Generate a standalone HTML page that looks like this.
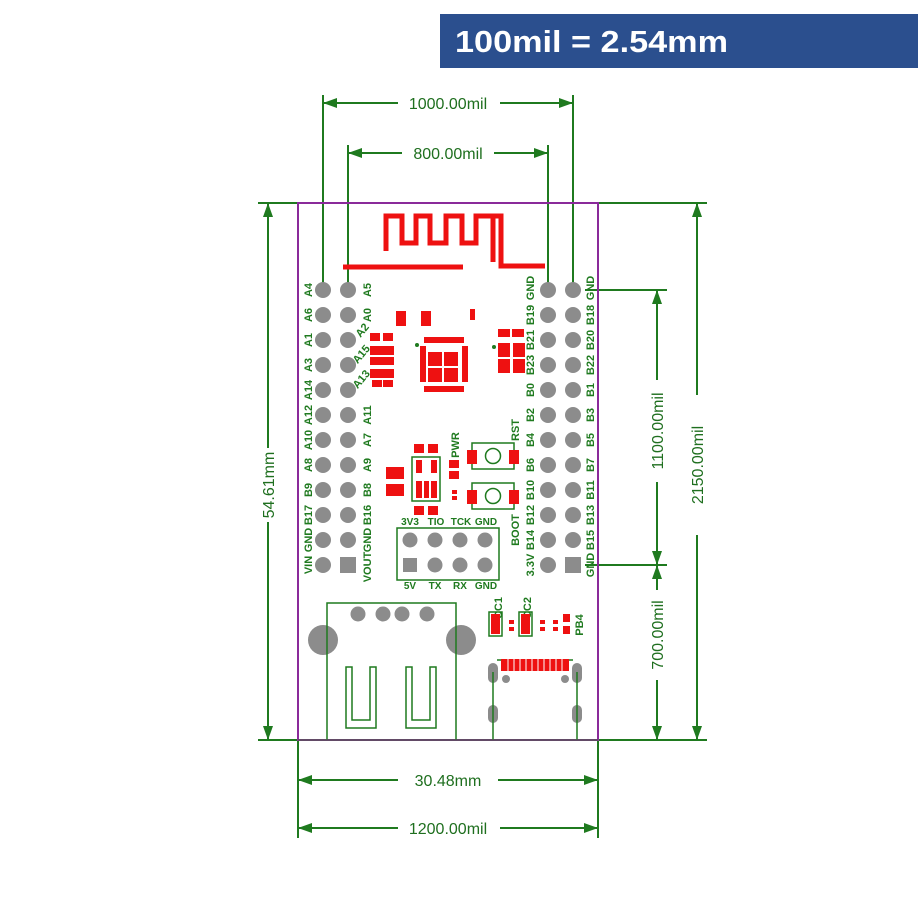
<!DOCTYPE html>
<html><head><meta charset="utf-8"><style>
html,body{margin:0;padding:0;background:#fff;}
svg{display:block;}
.l{font-family:"Liberation Sans",sans-serif;font-weight:bold;font-size:11px;fill:#1f7a1f;}
.h{font-family:"Liberation Sans",sans-serif;font-weight:bold;font-size:10px;fill:#1f7a1f;}
.d{font-family:"Liberation Sans",sans-serif;font-size:16px;fill:#1f6f1f;}
</style></head><body>
<svg width="918" height="922" viewBox="0 0 918 922" xmlns="http://www.w3.org/2000/svg">
<rect x="440" y="14" width="478" height="54" fill="#2b4f8e"/>
<text x="455" y="52" textLength="273" lengthAdjust="spacingAndGlyphs" font-family="Liberation Sans,sans-serif" font-weight="bold" font-size="31" fill="#fff">100mil = 2.54mm</text>

<g stroke="#1f7a1f" stroke-width="2" fill="none">
<line x1="323" y1="95" x2="323" y2="283"/><line x1="573" y1="95" x2="573" y2="283"/>
<line x1="323" y1="103" x2="398" y2="103"/><line x1="500" y1="103" x2="573" y2="103"/>
<line x1="348" y1="145" x2="348" y2="283"/><line x1="548" y1="145" x2="548" y2="283"/>
<line x1="348" y1="153" x2="402" y2="153"/><line x1="494" y1="153" x2="548" y2="153"/>
<line x1="258" y1="203" x2="298" y2="203"/><line x1="258" y1="740" x2="298" y2="740"/>
<line x1="268" y1="203" x2="268" y2="448"/><line x1="268" y1="522" x2="268" y2="740"/>
<line x1="598" y1="203" x2="707" y2="203"/><line x1="598" y1="740" x2="707" y2="740"/>
<line x1="697" y1="203" x2="697" y2="395"/><line x1="697" y1="535" x2="697" y2="740"/>
<line x1="585" y1="290" x2="667" y2="290"/><line x1="585" y1="565" x2="667" y2="565"/>
<line x1="657" y1="290" x2="657" y2="380"/><line x1="657" y1="482" x2="657" y2="565"/>
<line x1="657" y1="565" x2="657" y2="590"/><line x1="657" y1="680" x2="657" y2="740"/>
<line x1="298" y1="740" x2="298" y2="838"/><line x1="598" y1="740" x2="598" y2="838"/>
<line x1="298" y1="780" x2="398" y2="780"/><line x1="498" y1="780" x2="598" y2="780"/>
<line x1="298" y1="828" x2="398" y2="828"/><line x1="500" y1="828" x2="598" y2="828"/>
</g>
<g fill="#1f7a1f">
<polygon points="323,103 337,98 337,108"/><polygon points="573,103 559,98 559,108"/>
<polygon points="348,153 362,148 362,158"/><polygon points="548,153 534,148 534,158"/>
<polygon points="268,203 263,217 273,217"/><polygon points="268,740 263,726 273,726"/>
<polygon points="697,203 692,217 702,217"/><polygon points="697,740 692,726 702,726"/>
<polygon points="657,290 652,304 662,304"/><polygon points="657,565 652,551 662,551"/>
<polygon points="657,565 652,579 662,579"/><polygon points="657,740 652,726 662,726"/>
<polygon points="298,780 312,775 312,785"/><polygon points="598,780 584,775 584,785"/>
<polygon points="298,828 312,823 312,833"/><polygon points="598,828 584,823 584,833"/>
</g>
<text class="d" x="448" y="109" text-anchor="middle">1000.00mil</text>
<text class="d" x="448" y="159" text-anchor="middle">800.00mil</text>
<text class="d" x="448" y="786" text-anchor="middle">30.48mm</text>
<text class="d" x="448" y="834" text-anchor="middle">1200.00mil</text>
<text class="d" transform="rotate(-90 274 485)" x="274" y="485" text-anchor="middle">54.61mm</text>
<text class="d" transform="rotate(-90 703 465)" x="703" y="465" text-anchor="middle">2150.00mil</text>
<text class="d" transform="rotate(-90 663 431)" x="663" y="431" text-anchor="middle">1100.00mil</text>
<text class="d" transform="rotate(-90 663 635)" x="663" y="635" text-anchor="middle">700.00mil</text>

<rect x="298" y="203" width="300" height="537" fill="none" stroke="#8a2a9a" stroke-width="2"/>

<g fill="none" stroke="#ee1111" stroke-width="5">
<path d="M386,251 V216 H402 V243 H416 V216 H430 V243 H446 V216 H462 V243 H476 V216 H493 V262"/>
<path d="M476,216 H501 V266 H545"/>
<path d="M343,267 H463"/>
</g>

<g fill="#8c8c8c">
<circle cx="323" cy="290" r="8"/><circle cx="323" cy="315" r="8"/><circle cx="323" cy="340" r="8"/><circle cx="323" cy="365" r="8"/><circle cx="323" cy="390" r="8"/><circle cx="323" cy="415" r="8"/><circle cx="323" cy="440" r="8"/><circle cx="323" cy="465" r="8"/><circle cx="323" cy="490" r="8"/><circle cx="323" cy="515" r="8"/><circle cx="323" cy="540" r="8"/><circle cx="323" cy="565" r="8"/>
<circle cx="348" cy="290" r="8"/><circle cx="348" cy="315" r="8"/><circle cx="348" cy="340" r="8"/><circle cx="348" cy="365" r="8"/><circle cx="348" cy="390" r="8"/><circle cx="348" cy="415" r="8"/><circle cx="348" cy="440" r="8"/><circle cx="348" cy="465" r="8"/><circle cx="348" cy="490" r="8"/><circle cx="348" cy="515" r="8"/><circle cx="348" cy="540" r="8"/><rect x="340" y="557" width="16" height="16"/>
<circle cx="548" cy="290" r="8"/><circle cx="548" cy="315" r="8"/><circle cx="548" cy="340" r="8"/><circle cx="548" cy="365" r="8"/><circle cx="548" cy="390" r="8"/><circle cx="548" cy="415" r="8"/><circle cx="548" cy="440" r="8"/><circle cx="548" cy="465" r="8"/><circle cx="548" cy="490" r="8"/><circle cx="548" cy="515" r="8"/><circle cx="548" cy="540" r="8"/><circle cx="548" cy="565" r="8"/>
<circle cx="573" cy="290" r="8"/><circle cx="573" cy="315" r="8"/><circle cx="573" cy="340" r="8"/><circle cx="573" cy="365" r="8"/><circle cx="573" cy="390" r="8"/><circle cx="573" cy="415" r="8"/><circle cx="573" cy="440" r="8"/><circle cx="573" cy="465" r="8"/><circle cx="573" cy="490" r="8"/><circle cx="573" cy="515" r="8"/><circle cx="573" cy="540" r="8"/><rect x="565" y="557" width="16" height="16"/>
<circle cx="410" cy="540" r="7.5"/><circle cx="435" cy="540" r="7.5"/><circle cx="460" cy="540" r="7.5"/><circle cx="485" cy="540" r="7.5"/>
<rect x="403" y="558" width="14" height="14"/><circle cx="435" cy="565" r="7.5"/><circle cx="460" cy="565" r="7.5"/><circle cx="485" cy="565" r="7.5"/>
<circle cx="358" cy="614" r="7.5"/><circle cx="383" cy="614" r="7.5"/><circle cx="402" cy="614" r="7.5"/><circle cx="427" cy="614" r="7.5"/>
<circle cx="323" cy="640" r="15"/><circle cx="461" cy="640" r="15"/>
<rect x="488" y="663" width="10" height="20" rx="5"/><rect x="572" y="663" width="10" height="20" rx="5"/>
<rect x="488" y="705" width="10" height="18" rx="5"/><rect x="572" y="705" width="10" height="18" rx="5"/>
<circle cx="506" cy="679" r="4"/><circle cx="565" cy="679" r="4"/>
</g>

<g class="l" text-anchor="middle">
<text transform="rotate(-90 308 290)" x="308" y="294">A4</text>
<text transform="rotate(-90 308 315)" x="308" y="319">A6</text>
<text transform="rotate(-90 308 340)" x="308" y="344">A1</text>
<text transform="rotate(-90 308 365)" x="308" y="369">A3</text>
<text transform="rotate(-90 308 390)" x="308" y="394">A14</text>
<text transform="rotate(-90 308 415)" x="308" y="419">A12</text>
<text transform="rotate(-90 308 440)" x="308" y="444">A10</text>
<text transform="rotate(-90 308 465)" x="308" y="469">A8</text>
<text transform="rotate(-90 308 490)" x="308" y="494">B9</text>
<text transform="rotate(-90 308 515)" x="308" y="519">B17</text>
<text transform="rotate(-90 308 540)" x="308" y="544">GND</text>
<text transform="rotate(-90 308 565)" x="308" y="569">VIN</text>
<text transform="rotate(-90 367 290)" x="367" y="294">A5</text>
<text transform="rotate(-90 367 315)" x="367" y="319">A0</text>
<text transform="rotate(-50 362 330)" x="362" y="334">A2</text>
<text transform="rotate(-50 361 354)" x="361" y="358">A15</text>
<text transform="rotate(-50 361 379)" x="361" y="383">A13</text>
<text transform="rotate(-90 367 415)" x="367" y="419">A11</text>
<text transform="rotate(-90 367 440)" x="367" y="444">A7</text>
<text transform="rotate(-90 367 465)" x="367" y="469">A9</text>
<text transform="rotate(-90 367 490)" x="367" y="494">B8</text>
<text transform="rotate(-90 367 515)" x="367" y="519">B16</text>
<text transform="rotate(-90 367 540)" x="367" y="544">GND</text>
<text transform="rotate(-90 367 567)" x="367" y="571">VOUT</text>
<text transform="rotate(-90 530 288)" x="530" y="292">GND</text>
<text transform="rotate(-90 530 315)" x="530" y="319">B19</text>
<text transform="rotate(-90 530 340)" x="530" y="344">B21</text>
<text transform="rotate(-90 530 365)" x="530" y="369">B23</text>
<text transform="rotate(-90 530 390)" x="530" y="394">B0</text>
<text transform="rotate(-90 530 415)" x="530" y="419">B2</text>
<text transform="rotate(-90 530 440)" x="530" y="444">B4</text>
<text transform="rotate(-90 530 465)" x="530" y="469">B6</text>
<text transform="rotate(-90 530 490)" x="530" y="494">B10</text>
<text transform="rotate(-90 530 515)" x="530" y="519">B12</text>
<text transform="rotate(-90 530 540)" x="530" y="544">B14</text>
<text transform="rotate(-90 530 565)" x="530" y="569">3.3V</text>
<text transform="rotate(-90 590 288)" x="590" y="292">GND</text>
<text transform="rotate(-90 590 315)" x="590" y="319">B18</text>
<text transform="rotate(-90 590 340)" x="590" y="344">B20</text>
<text transform="rotate(-90 590 365)" x="590" y="369">B22</text>
<text transform="rotate(-90 590 390)" x="590" y="394">B1</text>
<text transform="rotate(-90 590 415)" x="590" y="419">B3</text>
<text transform="rotate(-90 590 440)" x="590" y="444">B5</text>
<text transform="rotate(-90 590 465)" x="590" y="469">B7</text>
<text transform="rotate(-90 590 490)" x="590" y="494">B11</text>
<text transform="rotate(-90 590 515)" x="590" y="519">B13</text>
<text transform="rotate(-90 590 540)" x="590" y="544">B15</text>
<text transform="rotate(-90 590 565)" x="590" y="569">GND</text>
<text transform="rotate(-90 515 430)" x="515" y="434">RST</text>
<text transform="rotate(-90 455 445)" x="455" y="449">PWR</text>
<text transform="rotate(-90 515 530)" x="515" y="534">BOOT</text>
<text transform="rotate(-90 498 608)" x="498" y="612">CC1</text>
<text transform="rotate(-90 527 608)" x="527" y="612">CC2</text>
<text transform="rotate(-90 579 625)" x="579" y="629">PB4</text>
</g>
<g class="h" text-anchor="middle">
<text x="410" y="525">3V3</text><text x="436" y="525">TIO</text><text x="461" y="525">TCK</text><text x="486" y="525">GND</text>
<text x="410" y="589">5V</text><text x="435" y="589">TX</text><text x="460" y="589">RX</text><text x="486" y="589">GND</text>
</g>

<g fill="none" stroke="#1f7a1f" stroke-width="1.5">
<rect x="397" y="528" width="102" height="52"/>
<rect x="412" y="457" width="28" height="44"/>
<rect x="472" y="443" width="42" height="26"/><circle cx="493" cy="456" r="7.5"/>
<rect x="472" y="483" width="42" height="26"/><circle cx="493" cy="496" r="7.5"/>
<path d="M327,740 V603 H456 V740"/>
<path d="M346,667 V728 H376 V667 H370 V720 H352 V667 Z"/>
<path d="M406,667 V728 H436 V667 H430 V720 H412 V667 Z"/>
<path d="M493,740 V672 M577,740 V672 M497,660 H573"/>
<rect x="489" y="612" width="13" height="24"/><rect x="519" y="612" width="13" height="24"/>
</g>
<line x1="298" y1="740" x2="598" y2="740" stroke="#555" stroke-width="1.5"/>

<g fill="#ee1111">
<rect x="396" y="311" width="10" height="15"/><rect x="421" y="311" width="10" height="15"/>
<rect x="470" y="309" width="5" height="11"/>
<rect x="428" y="352" width="14" height="14"/><rect x="444" y="352" width="14" height="14"/><rect x="428" y="368" width="14" height="14"/><rect x="444" y="368" width="14" height="14"/>
<rect x="424" y="337" width="40" height="6"/><rect x="424" y="386" width="40" height="6"/>
<rect x="420" y="346" width="6" height="36"/><rect x="462" y="346" width="6" height="36"/>
<rect x="498" y="329" width="12" height="8"/><rect x="512" y="329" width="12" height="8"/>
<rect x="498" y="343" width="12" height="14"/><rect x="513" y="343" width="12" height="14"/>
<rect x="498" y="359" width="12" height="14"/><rect x="513" y="359" width="12" height="14"/>
<rect x="370" y="333" width="10" height="8"/><rect x="383" y="333" width="10" height="8"/>
<rect x="370" y="346" width="24" height="9"/><rect x="370" y="357" width="24" height="8"/><rect x="370" y="369" width="24" height="9"/>
<rect x="372" y="380" width="10" height="7"/><rect x="383" y="380" width="10" height="7"/>
<rect x="414" y="444" width="10" height="9"/><rect x="428" y="444" width="10" height="9"/>
<rect x="416" y="460" width="6" height="13"/><rect x="431" y="460" width="6" height="13"/>
<rect x="416" y="481" width="6" height="17"/><rect x="424" y="481" width="5" height="17"/><rect x="431" y="481" width="6" height="17"/>
<rect x="414" y="506" width="10" height="9"/><rect x="428" y="506" width="10" height="9"/>
<rect x="386" y="467" width="18" height="12"/><rect x="386" y="484" width="18" height="12"/>
<rect x="449" y="460" width="10" height="8"/><rect x="449" y="471" width="10" height="8"/>
<rect x="452" y="490" width="5" height="4"/><rect x="452" y="496" width="5" height="4"/>
<rect x="467" y="450" width="10" height="14"/><rect x="509" y="450" width="10" height="14"/>
<rect x="467" y="490" width="10" height="14"/><rect x="509" y="490" width="10" height="14"/>
<rect x="491" y="614" width="9" height="20"/><rect x="521" y="614" width="9" height="20"/>
<rect x="509" y="620" width="5" height="4"/><rect x="509" y="627" width="5" height="4"/>
<rect x="540" y="620" width="5" height="4"/><rect x="540" y="627" width="5" height="4"/>
<rect x="553" y="620" width="5" height="4"/><rect x="553" y="627" width="5" height="4"/>
<rect x="563" y="614" width="7" height="8"/><rect x="563" y="626" width="7" height="8"/>
<rect x="501" y="659" width="68" height="12"/>
</g>
<g stroke="#fff" stroke-width="1">
<line x1="508" y1="659" x2="508" y2="671"/><line x1="514" y1="659" x2="514" y2="671"/><line x1="520" y1="659" x2="520" y2="671"/><line x1="526" y1="659" x2="526" y2="671"/><line x1="532" y1="659" x2="532" y2="671"/><line x1="538" y1="659" x2="538" y2="671"/><line x1="544" y1="659" x2="544" y2="671"/><line x1="550" y1="659" x2="550" y2="671"/><line x1="556" y1="659" x2="556" y2="671"/><line x1="562" y1="659" x2="562" y2="671"/>
</g>
<circle cx="417" cy="345" r="2" fill="#1f7a1f"/><circle cx="494" cy="347" r="2" fill="#1f7a1f"/>
</svg>
</body></html>
